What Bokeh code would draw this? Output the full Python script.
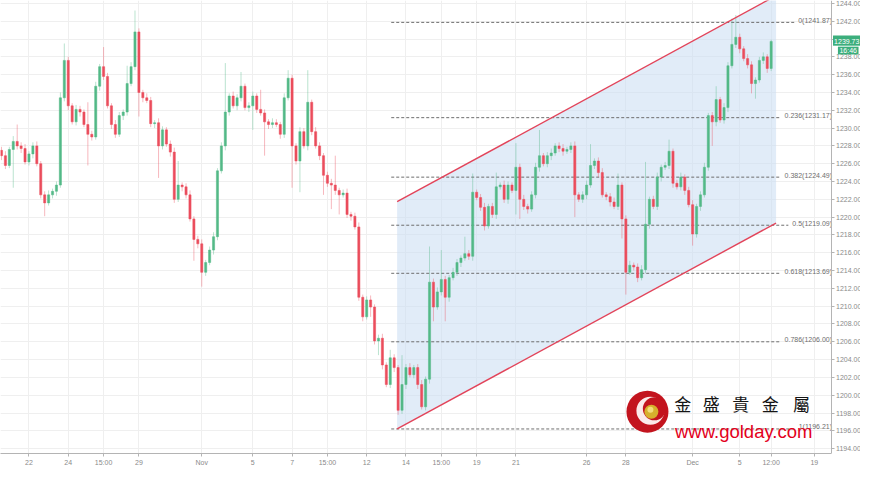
import numpy as np
from bokeh.plotting import figure
from bokeh.models import Range1d, FixedTicker, PrintfTickFormatter, ColumnDataSource
from bokeh.core.properties import value
from bokeh.embed import file_html
from bokeh.resources import INLINE

# ---------------- data ----------------
first_open = 1227.5
close = [
    1226.9, 1225.8, 1227.6, 1228.5, 1228.0, 1227.7, 1226.2, 1227.1, 1228.0, 1226.0,
    1222.5, 1221.6, 1222.5, 1222.9, 1223.6, 1233.4, 1237.6, 1232.5, 1230.7, 1232.1,
    1231.8, 1230.4, 1229.3, 1229.0, 1234.7, 1236.9, 1235.8, 1232.5, 1230.4, 1229.3,
    1231.4, 1231.8, 1235.0, 1236.9, 1240.8, 1234.0, 1233.4, 1233.1, 1230.5, 1230.6,
    1228.0, 1229.8, 1228.2, 1227.3, 1222.0, 1223.6, 1223.4, 1222.5, 1219.8, 1217.5,
    1217.0, 1213.8, 1214.9, 1216.3, 1217.8, 1225.2, 1228.0, 1231.8, 1233.6, 1232.5,
    1233.4, 1234.7, 1232.3, 1232.5, 1233.6, 1232.1, 1231.7, 1230.7, 1230.4, 1230.6,
    1230.4, 1229.3, 1233.4, 1235.6, 1228.0, 1226.3, 1229.6, 1228.0, 1232.9, 1229.6,
    1228.0, 1226.9, 1224.7, 1223.8, 1223.6, 1223.0, 1222.5, 1222.7, 1220.3, 1220.1,
    1218.9, 1211.0, 1208.8, 1210.7, 1209.9, 1206.1, 1206.4, 1203.4, 1201.2, 1204.2,
    1203.1, 1198.3, 1201.2, 1203.1, 1202.3, 1203.1, 1201.2, 1198.7, 1201.8, 1212.7,
    1209.9, 1211.6, 1213.0, 1211.0, 1213.2, 1213.8, 1214.9, 1215.4, 1215.9, 1215.6,
    1222.8, 1222.2, 1221.1, 1219.0, 1221.2, 1220.3, 1223.4, 1223.6, 1222.0, 1223.6,
    1223.0, 1225.6, 1222.0, 1221.2, 1220.9, 1222.5, 1225.6, 1226.9, 1226.0, 1226.9,
    1227.2, 1228.0, 1227.7, 1227.4, 1227.6, 1228.0, 1222.5, 1222.0, 1222.5, 1223.6,
    1225.8, 1226.3, 1225.0, 1222.5, 1222.3, 1221.7, 1221.2, 1223.6, 1219.8, 1213.8,
    1214.6, 1214.4, 1213.2, 1214.1, 1219.2, 1222.0, 1221.2, 1224.5, 1225.6, 1225.8,
    1227.4, 1223.8, 1223.4, 1224.5, 1223.0, 1221.4, 1218.1, 1221.2, 1222.5, 1225.6,
    1231.4, 1230.7, 1233.2, 1230.9, 1232.3, 1237.0, 1239.4, 1240.2, 1238.9, 1237.8,
    1237.1, 1235.0, 1235.4, 1237.6, 1238.0, 1236.7, 1239.73,
]
wick_up = [
    0.4, 0.5, 0.3, 0.6, 1.9, 0.4, 0.5, 0.3, 0.4, 0.5,
    0.3, 0.4, 0.5, 0.3, 0.4, 0.6, 1.9, 0.4, 0.3, 0.5,
    0.4, 0.3, 2.5, 0.4, 0.5, 0.3, 2.2, 0.4, 0.3, 0.5,
    0.4, 0.3, 2.0, 0.5, 2.4, 0.4, 0.3, 0.5, 0.4, 0.3,
    0.5, 0.4, 0.3, 0.4, 0.5, 2.7, 0.3, 0.4, 0.5, 0.3,
    0.4, 0.5, 0.3, 0.4, 0.5, 0.3, 0.4, 5.5, 0.3, 0.5,
    0.4, 1.6, 0.3, 0.4, 0.5, 0.3, 2.2, 0.4, 0.3, 0.5,
    0.4, 0.3, 0.5, 0.9, 0.4, 0.3, 0.5, 0.4, 3.6, 0.3,
    0.5, 0.4, 0.3, 0.4, 0.5, 3.3, 0.3, 0.4, 0.5, 0.3,
    0.4, 0.5, 0.3, 0.4, 0.5, 0.3, 0.4, 0.5, 0.3, 0.9,
    0.4, 0.3, 3.3, 0.4, 0.5, 0.3, 0.4, 0.5, 0.3, 4.0,
    0.4, 0.5, 3.3, 0.4, 0.3, 0.5, 0.4, 0.3, 1.9, 0.4,
    2.1, 0.3, 0.4, 0.5, 0.3, 0.4, 1.6, 0.3, 0.5, 0.4,
    0.3, 2.7, 0.4, 0.5, 0.3, 0.4, 0.5, 2.9, 0.3, 0.4,
    0.5, 0.3, 0.4, 0.5, 0.3, 0.4, 0.5, 0.3, 0.4, 0.5,
    2.4, 0.3, 0.4, 0.5, 0.3, 0.4, 0.5, 1.3, 0.3, 0.4,
    0.5, 0.3, 0.4, 0.5, 7.0, 0.3, 0.4, 0.5, 0.3, 0.4,
    1.3, 0.3, 0.4, 0.5, 0.3, 0.4, 0.5, 0.3, 0.4, 0.5,
    0.3, 0.4, 1.5, 0.3, 0.5, 0.4, 2.9, 2.5, 0.4, 0.3,
    0.5, 0.4, 0.3, 0.4, 0.5, 0.3, 0.2,
]
wick_dn = [
    0.5, 0.4, 0.3, 4.3, 0.4, 0.5, 0.3, 0.4, 0.5, 0.3,
    0.4, 1.5, 0.3, 0.4, 0.5, 0.3, 0.4, 0.5, 0.3, 0.4,
    0.5, 0.3, 3.5, 0.4, 0.3, 0.5, 0.4, 0.3, 0.5, 0.4,
    0.3, 0.5, 0.4, 0.3, 0.4, 2.7, 0.5, 0.3, 0.4, 0.5,
    3.6, 0.4, 0.3, 0.5, 0.4, 0.3, 0.5, 0.4, 0.3, 2.4,
    0.5, 1.6, 0.4, 0.3, 0.5, 0.4, 0.3, 0.5, 0.4, 0.3,
    0.5, 0.4, 0.3, 0.5, 2.7, 0.4, 0.3, 3.8, 0.5, 0.4,
    0.3, 0.5, 0.4, 0.3, 4.7, 0.4, 3.5, 0.3, 0.5, 0.4,
    0.3, 0.5, 2.2, 0.4, 2.7, 0.5, 2.2, 0.3, 0.4, 0.5,
    0.3, 0.4, 0.5, 0.3, 1.1, 0.4, 1.6, 0.5, 0.3, 0.4,
    0.5, 0.5, 0.4, 0.5, 0.3, 0.4, 0.5, 0.3, 0.4, 0.5,
    1.6, 0.3, 0.4, 2.7, 0.5, 0.3, 0.4, 0.5, 0.3, 0.4,
    0.5, 0.3, 0.4, 0.5, 0.3, 0.4, 0.5, 0.3, 0.4, 0.5,
    0.3, 2.7, 2.2, 0.4, 0.5, 0.3, 0.4, 0.5, 0.3, 0.4,
    0.5, 0.3, 0.4, 0.5, 0.3, 0.4, 2.5, 0.3, 0.4, 0.5,
    0.3, 0.4, 0.5, 0.3, 0.4, 0.5, 0.3, 0.4, 2.2, 2.5,
    0.3, 0.4, 0.5, 0.3, 0.4, 0.5, 0.3, 0.4, 0.5, 0.3,
    0.4, 0.5, 0.3, 0.4, 0.5, 0.3, 1.3, 0.4, 0.5, 0.3,
    0.4, 2.7, 0.5, 0.3, 0.4, 0.5, 0.3, 0.4, 0.5, 0.3,
    0.4, 1.1, 1.7, 0.3, 0.4, 0.5, 0.3,
]

x_tick_idx = [7, 17, 26, 35, 51, 64, 74, 83, 93, 103, 112, 121, 131, 149, 159, 176, 188, 196, 207]
x_tick_labels = ["22", "24", "15:00", "29", "Nov", "5", "7", "15:00", "12", "14",
                 "15:00", "19", "21", "26", "28", "Dec", "5", "12:00", "19"]
y_ticks = list(range(1194, 1246, 2))

fib_ratios = ["0", "0.236", "0.382", "0.5", "0.618", "0.786", "1"]
fib_prices = [1241.87, 1231.17, 1224.49, 1219.09, 1213.69, 1206.00, 1196.21]
fib_start_idx = 99.25

channel_idx = [100.75, 197.25]
channel_lower = [1196.21, 1219.33]
channel_upper = [1221.73, 1244.87]

last_price = 1239.73
countdown = "16:46"

# ---------------- figure ----------------
# reference layout: 4 px per candle, price scale at 846 px, canvas 876 px
def px2x(px):
    return px / 4.0 - 0.25

def py2y(py):
    return 1244 - (py - 3) / 9.16

X0, XA, XE = px2x(0), px2x(846), px2x(876)     # left, price-axis position, right edge
Y0, Y1 = py2y(466), py2y(0)

p = figure(width=860, height=468, x_range=Range1d(X0, XE), y_range=Range1d(Y0, Y1),
           y_axis_location="right", output_backend="svg", toolbar_location=None,
           min_border_left=0, min_border_top=0, min_border_right=0, min_border_bottom=0)
p.outline_line_color = None
p.background_fill_color = "white"
p.border_fill_color = "white"

for ax in (p.xaxis[0], p.yaxis[0]):
    ax.axis_line_color = "#b4b4b4"
    ax.major_tick_line_color = "#b4b4b4"
    ax.major_tick_out = 3
    ax.major_tick_in = 0
    ax.minor_tick_line_color = None
    ax.major_label_text_font = "Liberation Sans"
    ax.major_label_text_font_size = "7px"
    ax.major_label_text_color = "#8a8a8a"
    ax.major_label_standoff = 2

p.yaxis.fixed_location = XA
p.xaxis.bounds = (X0, XA)
p.xaxis.ticker = FixedTicker(ticks=x_tick_idx)
p.xaxis.major_label_overrides = {t: lab for t, lab in zip(x_tick_idx, x_tick_labels)}
p.yaxis.ticker = FixedTicker(ticks=y_ticks)
p.yaxis.formatter = PrintfTickFormatter(format="%.2f")
p.xgrid.ticker = FixedTicker(ticks=x_tick_idx)
p.ygrid.ticker = FixedTicker(ticks=y_ticks)
p.xgrid.grid_line_color = "#efefef"
p.ygrid.grid_line_color = "#efefef"

# blank the price-scale strip (hides grid lines behind the labels)
p.quad(left=[XA], right=[XE + 1], bottom=[Y0 - 5], top=[Y1 + 5], fill_color="white", line_color=None)

# channel shading
p.patch(x=[channel_idx[0], channel_idx[1], channel_idx[1], channel_idx[0]],
        y=[channel_lower[0], channel_lower[1], channel_upper[1], channel_upper[0]],
        fill_color="#c9dcf2", fill_alpha=0.55, line_color=None)

# fib levels
ppu = 860.0 / (XE - X0)
fib_texts = [f"{r}({v:.2f})" for r, v in zip(fib_ratios, fib_prices)]
char_w = {".": 0.278, "(": 0.333, ")": 0.333}
fs = 7.0
ends = []
for t in fib_texts:
    w = sum(char_w.get(ch, 0.556) for ch in t) * fs
    ends.append(XA - (w + 3) / ppu)
p.segment(x0=[fib_start_idx] * len(fib_prices), y0=fib_prices, x1=ends, y1=fib_prices,
          line_color="#6e6e6e", line_width=1, line_dash="3 2")
p.text(x=[XA] * len(fib_prices), y=fib_prices, text=fib_texts,
       text_font=value("Liberation Sans"), text_font_size="7px", text_color="#6e6e6e",
       text_align="right", text_baseline="middle", y_offset=-2, x_offset=1)

# candles
c = np.array(close)
o = np.array([first_open] + close[:-1])
hi = np.maximum(o, c) + np.array(wick_up)
lo = np.minimum(o, c) - np.array(wick_dn)
idx = np.arange(len(c))
up = c >= o
UP, DN = "#53b987", "#eb4d5c"
for mask, col in ((up, UP), (~up, DN)):
    src = ColumnDataSource(dict(x=idx[mask], o=o[mask], c=c[mask], h=hi[mask], l=lo[mask]))
    p.segment("x", "h", "x", "l", source=src, line_color=col, line_alpha=0.4, line_width=1)
    p.vbar(x="x", width=0.55, top="c", bottom="o", source=src, fill_color=col, line_color=col, line_width=0.5)

# channel lines
p.line(channel_idx, channel_lower, line_color="#e2445a", line_width=1.4)
p.line(channel_idx, channel_upper, line_color="#e2445a", line_width=1.4)

# last price tag + countdown on the price scale
TAG = "#3cae7c"
p.quad(left=[px2x(848)], right=[px2x(876)], top=[py2y(36)], bottom=[py2y(46.5)],
       fill_color=TAG, line_color=None, level="overlay")
p.quad(left=[px2x(853)], right=[px2x(874)], top=[py2y(47.5)], bottom=[py2y(55.5)],
       fill_color=TAG, line_color=None, level="overlay")
p.text(x=[px2x(862), px2x(863.5)], y=[last_price, py2y(51.5)], text=[f"{last_price:.2f}", countdown],
       text_font=value("Liberation Sans"), text_font_size="7px", text_color="white",
       text_align="center", text_baseline="middle", level="overlay")

# logo (positions from reference pixel layout)
p.scatter(x=[px2x(659)], y=[py2y(423)], size=42, marker="circle", fill_color="#c3141e", line_color=None)
p.scatter(x=[px2x(662)], y=[py2y(422)], size=28, marker="circle", fill_color="#fbeaea", line_color=None)
p.scatter(x=[px2x(666)], y=[py2y(420)], size=23, marker="circle", fill_color="#c3141e", line_color=None)
p.scatter(x=[px2x(663)], y=[py2y(423)], size=14, marker="circle", fill_color="#d6b02c", line_color=None)
p.scatter(x=[px2x(662)], y=[py2y(421)], size=6, marker="circle", fill_color="#f2dc7a", line_color=None)

logo_chars = ["金", "盛", "貴", "金", "屬"]
p.text(x=[px2x(v) for v in (695, 724, 754, 784, 816)], y=[py2y(415)] * 5, text=logo_chars,
       text_font=value("Noto Sans CJK TC"), text_font_size="17px", text_color="#151515",
       text_align="center", text_baseline="middle")
p.text(x=[px2x(687)], y=[py2y(443)], text=["www.golday.com"],
       text_font=value("Liberation Sans"), text_font_size="18.5px", text_color="#e3001b",
       text_align="left", text_baseline="alphabetic")

open("out.html", "w").write(file_html(p, INLINE))
